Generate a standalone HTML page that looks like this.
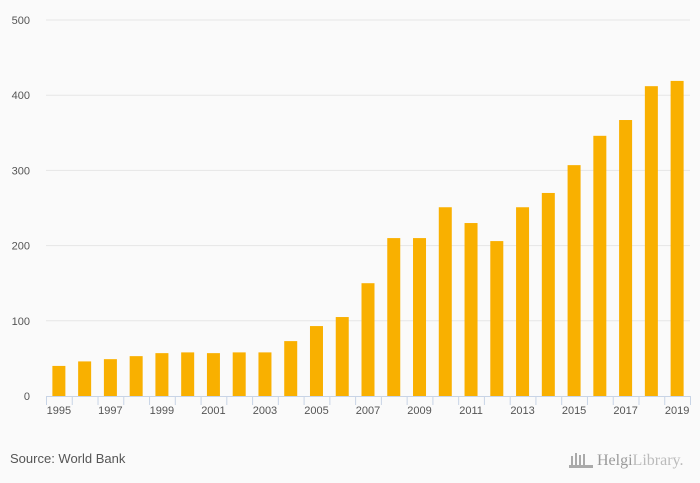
<!DOCTYPE html>
<html><head><meta charset="utf-8"><style>
body{margin:0;background:#fafafa;font-family:"Liberation Sans",sans-serif;}
svg{display:block}
</style></head><body>
<svg id="chart" width="700" height="483">
<rect width="700" height="483" fill="#fafafa"/>
<g id="grid"></g><g id="bars"></g><g id="axis"></g>
<text x="10" y="463" font-size="13" fill="#555">Source: World Bank</text>
<g>
<g fill="#aaa"><rect x="571" y="456" width="2" height="10"/><rect x="575" y="453" width="2" height="13"/><rect x="579" y="455" width="2" height="11"/><rect x="583" y="454" width="2" height="12"/><rect x="569" y="465" width="24" height="3"/></g>
<text x="597" y="465" font-size="16" fill="#999" font-family="Liberation Serif,serif">Helgi<tspan fill="#bbb">Library.</tspan></text>
</g>
</svg>
<script>
const categories=["1995","1996","1997","1998","1999","2000","2001","2002","2003","2004","2005","2006","2007","2008","2009","2010","2011","2012","2013","2014","2015","2016","2017","2018","2019"];
const values=[40,46,49,53,57,58,57,58,58,73,93,105,150,210,210,251,230,206,251,270,307,346,367,412,419];
const yTicks=[0,100,200,300,400,500];
const NS="http://www.w3.org/2000/svg";
const L=46,R=690,T=20,B=396,yMax=500;
const band=(R-L)/categories.length;
const y=v=>B-(v/yMax)*(B-T);
const x=i=>L+i*band;
function mk(tag,attrs,parent,txt){const e=document.createElementNS(NS,tag);for(const k in attrs)e.setAttribute(k,attrs[k]);if(txt!=null)e.textContent=txt;parent.appendChild(e);return e;}
const grid=document.getElementById('grid'),bars=document.getElementById('bars'),axis=document.getElementById('axis');
yTicks.forEach(t=>{
  if(t>0){const g=mk('line',{x1:L,x2:R,y1:y(t),y2:y(t),stroke:'#e6e6e6','stroke-width':1},grid);
  
  }
  const lb=mk('text',{x:30,y:y(t)+4,'text-anchor':'end','font-size':11,fill:'#555'},grid,String(t));
  
  
});
values.forEach((v,i)=>{
  const bw=13;
  const r=mk('rect',{x:x(i)+band/2-bw/2,y:y(v),width:bw,height:B-y(v),fill:'#f9b000'},bars);
  
  
});
const al=mk('line',{x1:L,x2:R,y1:B+0.5,y2:B+0.5,stroke:'#c8d4e6','stroke-width':1},axis);


for(let i=0;i<=categories.length;i++){
  const tk=mk('line',{x1:x(i)+0.5,x2:x(i)+0.5,y1:B,y2:B+9,stroke:'#c8d4e6'},axis);
  
  
}
categories.forEach((c,i)=>{
  if(i%2)return;
  const t=mk('text',{x:x(i)+band/2,y:B+18,'text-anchor':'middle','font-size':11,fill:'#555'},axis,c);
  
  
});
</script>
</body></html>
